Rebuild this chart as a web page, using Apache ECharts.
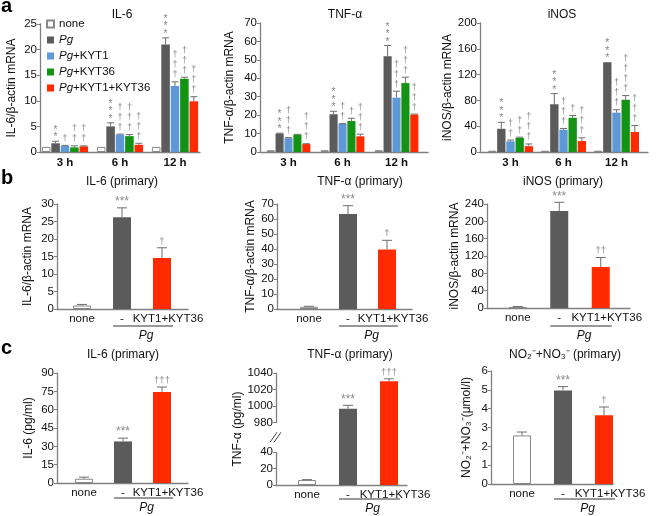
<!DOCTYPE html>
<html><head><meta charset="utf-8">
<script src="https://cdn.jsdelivr.net/npm/echarts@6/dist/echarts.min.js"></script>
<style>html,body{margin:0;padding:0;background:#fff}#c{width:660px;height:516px}</style>
</head><body><div id="c"></div>
<script>
// ---------------- DATA ----------------
const timeCats = ['3 h', '6 h', '12 h'];
const groupNames = ['none', 'Pg', 'Pg+KYT1', 'Pg+KYT36', 'Pg+KYT1+KYT36'];
const primaryCats = ['none', '-', 'KYT1+KYT36'];
const cTNFTicks = [0, 20, 40, 980, 1000, 1020, 1040];

// panel a : rows = group (none, Pg, Pg+KYT1, Pg+KYT36, Pg+KYT1+KYT36), cols = 3 h, 6 h, 12 h
const aIL6Mean = [[1.0, 1.0, 1.0], [1.7, 5.0, 21.0], [1.2, 3.4, 12.9], [0.9, 3.1, 14.3], [1.1, 1.4, 9.9]];
const aIL6Err  = [[0, 0, 0], [0.4, 0.7, 1.3], [0.1, 0.1, 0.8], [0.3, 0.3, 0.3], [0.1, 0.3, 0.9]];
const aIL6Sig  = [['', '', ''], ['**', '***', '***'], ['†', '†††', '†††'], ['††', '†††', '†††'], ['††', '†††', '†††']];

const aTNFMean = [[1.0, 1.0, 1.0], [10.0, 20.5, 52.0], [7.5, 15.2, 29.5], [9.4, 16.8, 37.4], [4.3, 8.5, 20.3]];
const aTNFErr  = [[0, 0, 0], [0.2, 1.6, 5.8], [0.3, 0.2, 3.5], [0.2, 1.5, 3.2], [0.2, 1.2, 0.3]];
const aTNFSig  = [['', '', ''], ['***', '***', '***'], ['†††', '††', '†††'], ['', '†', '†††'], ['†††', '†††', '†††']];

const aNOSMean = [[2, 2, 2], [36, 74, 139], [16.5, 34.5, 61], [22, 53, 81], [9, 17, 31]];
const aNOSErr  = [[0, 0, 0], [10, 16.5, 0], [2, 2, 4.5], [1, 3.5, 6.5], [3.5, 5, 10]];
const aNOSSig  = [['', '', ''], ['***', '***', '***'], ['††', '†††', '†††'], ['††', '†', '††††'], ['†††', '†††', '†††']];

// panels b and c : cols = none, Pg, Pg+KYT1+KYT36
const bIL6Mean = [1.0, 26.2, 14.6];  const bIL6Err = [0.3, 2.7, 2.9];  const bIL6Sig = ['', '***', '†'];
const bTNFMean = [1.5, 63.3, 39.6];  const bTNFErr = [0.3, 5.6, 6.2];  const bTNFSig = ['', '***', '†'];
const bNOSMean = [2, 224, 94.6];     const bNOSErr = [1.5, 20, 22];    const bNOSSig = ['', '***', '††'];
const cIL6Mean = [3.5, 34, 74.5];    const cIL6Err = [1.3, 2.7, 4];    const cIL6Sig = ['', '***', '†††'];
const cTNFMean = [6, 997, 1030];     const cTNFErr = [0.5, 4, 3];      const cTNFSig = ['', '***', '†††'];
const cNOMean  = [2.58, 4.97, 3.65]; const cNOErr  = [0.18, 0.2, 0.44]; const cNOSig = ['', '***', '†'];

// ---------------- STYLE / LAYOUT ----------------
const FF = '"Liberation Sans", Arial, Helvetica, sans-serif';
const AX = '#808080', ERR = '#6e6e6e', SIG = '#8a8a8a', TXT = '#111';
const groupColors = ['#ffffff', '#5b5b5b', '#5f98d6', '#139313', '#ff2a00'];
const primaryColors = ['#ffffff', '#5b5b5b', '#ff2a00'];

const panels = [
  {kind: 'a', title: 'IL-6', tx: 122, ty: 15, frame: [40, 24, 200, 152], bars: [37.5, 202.5], catGap: 0.16,
   min: 0, max: 25, interval: 5, name: 'IL-6/β-actin mRNA', nameGap: 22, mean: aIL6Mean, err: aIL6Err, sig: aIL6Sig},
  {kind: 'a', title: 'TNF-α', tx: 345, ty: 15, frame: [260, 23, 428, 152], bars: [261.5, 423.5], catGap: 0.19,
   min: 0, max: 70, interval: 10, name: 'TNF-α/β-actin mRNA', nameGap: 24, mean: aTNFMean, err: aTNFErr, sig: aTNFSig},
  {kind: 'a', title: 'iNOS', tx: 562, ty: 15, frame: [480, 23, 648, 152], bars: [484, 643], catGap: 0.15,
   min: 0, max: 200, interval: 40, name: 'iNOS/β-actin mRNA', nameGap: 24, mean: aNOSMean, err: aNOSErr, sig: aNOSSig},
  {kind: 'p', title: 'IL-6 (primary)', tx: 122, ty: 182, frame: [57, 204, 188, 309], bars: [62, 182],
   min: 0, max: 30, interval: 5, name: 'IL-6/β-actin mRNA', nameGap: 23, mean: bIL6Mean, err: bIL6Err, sig: bIL6Sig, lineDy: 17},
  {kind: 'p', title: 'TNF-α (primary)', tx: 360, ty: 182, frame: [277, 204, 412, 309], bars: [289.5, 406.5],
   min: 0, max: 70, interval: 10, name: 'TNF-α/β-actin mRNA', nameGap: 20, mean: bTNFMean, err: bTNFErr, sig: bTNFSig, lineDy: 17},
  {kind: 'p', title: 'iNOS (primary)', tx: 563, ty: 182, frame: [487, 204, 630, 308], bars: [497, 621.5],
   min: 0, max: 240, interval: 40, name: 'iNOS/β-actin mRNA', nameGap: 17.5, mean: bNOSMean, err: bNOSErr, sig: bNOSSig, lineDy: 18},
  {kind: 'p', title: 'IL-6 (primary)', tx: 123, ty: 355, frame: [57, 373, 188, 483], bars: [64.5, 181.5],
   min: 0, max: 90, interval: 15, name: 'IL-6 (pg/ml)', nameGap: 22.5, mean: cIL6Mean, err: cIL6Err, sig: cIL6Sig, lineDy: 15},
  {kind: 'p', title: 'TNF-α (primary)', tx: 350, ty: 355, frame: [276, 373, 407, 485], bars: [286.5, 409.5],
   min: 0, max: 1040, interval: 20, breaks: [{start: 40, end: 980, gap: '26%'}], ticks: cTNFTicks,
   name: 'TNF-α (pg/ml)', nameGap: 28, mean: cTNFMean, err: cTNFErr, sig: cTNFSig, lineDy: 14},
  {kind: 'p', title: 'NO₂⁻+NO₃⁻ (primary)', tx: 565, ty: 355, frame: [491, 371, 613, 484], bars: [501.5, 624.5],
   min: 0, max: 6, interval: 1, name: 'NO₂⁻+NO₃⁻(μmol/l)', nameGap: 18.5, mean: cNOMean, err: cNOErr, sig: cNOSig, lineDy: 15}
];

const grid = [], xAxis = [], yAxis = [], series = [];

function errSeries(p, items, nBars, catGap, barGap) {
  return {
    type: 'custom', xAxisIndex: p.xi, yAxisIndex: p.yi, z: 5, silent: true, clip: false,
    data: items.map(it => [it.c, it.m + it.e]),
    renderItem(params, api) {
      const it = items[params.dataIndex];
      const band = api.size([1, 0])[0];
      let off = 0;
      if (nBars > 1) {
        const gw = band * (1 - catGap);
        const w = gw / (nBars + (nBars - 1) * barGap);
        off = -gw / 2 + it.k * w * (1 + barGap) + w / 2;
      }
      const base = api.coord([it.c, it.m]);
      const top = api.coord([it.c, it.m + it.e]);
      const x = base[0] + off;
      const cap = nBars > 1 ? 3.5 : 5;
      const ch = [];
      if (it.e > 0) {
        ch.push({type: 'line', shape: {x1: x, y1: base[1], x2: x, y2: top[1]}, style: {stroke: ERR, lineWidth: 1}});
        ch.push({type: 'line', shape: {x1: x - cap, y1: top[1], x2: x + cap, y2: top[1]}, style: {stroke: ERR, lineWidth: 1}});
      }
      if (it.s) {
        const star = it.s[0] === '*';
        let txt, fs, lh;
        if (nBars > 1) {
          txt = it.s.split('').join('\n');
          fs = star ? 10.5 : 9; lh = star ? 7.5 : 10;
        } else {
          txt = it.s; fs = star ? 12 : 9.5; lh = fs;
        }
        ch.push({type: 'text', style: {text: txt, x: x, y: top[1] - (star ? 0 : 2), align: 'center',
          verticalAlign: 'bottom', fill: SIG, fontSize: fs, lineHeight: lh, fontFamily: FF}});
      }
      return {type: 'group', children: ch};
    }
  };
}

panels.forEach(p => {
  const [x0, y0, x1, y1] = p.frame;
  const fg = grid.length;
  grid.push({left: x0, top: y0, width: x1 - x0, height: y1 - y0});
  xAxis.push({gridIndex: fg, type: 'value', min: 0, max: 1, position: 'bottom',
    axisLine: {show: true, onZero: false, lineStyle: {color: AX, width: 1.3}},
    axisTick: {show: false}, axisLabel: {show: false}, splitLine: {show: false}});
  const yCommon = {type: 'value', min: p.min, max: p.max, interval: p.interval};
  if (p.breaks) { yCommon.breaks = p.breaks; yCommon.breakArea = {show: false}; }
  const topTick = p.ticks ? p.ticks[p.ticks.length - 1] : null;
  const yLabel = {fontSize: 11.5, color: TXT, margin: 3, fontFamily: FF, hideOverlap: false,
    showMaxLabel: true, showMinLabel: true,
    formatter: v => (p.ticks && v === topTick) ? '' : String(v)};
  const yTick = {show: true, length: 3, lineStyle: {color: AX, width: 1}};
  if (p.ticks) { yLabel.customValues = p.ticks; yTick.customValues = p.ticks; }
  yAxis.push(Object.assign({gridIndex: fg,
    name: p.name, nameLocation: 'middle', nameGap: p.nameGap, nameRotate: 90,
    nameTextStyle: {fontSize: 12, color: TXT, fontFamily: FF},
    axisLine: {show: true, lineStyle: {color: AX, width: 1.3}},
    axisTick: yTick, axisLabel: yLabel,
    splitLine: {show: false}}, yCommon));
  const bg = grid.length;
  grid.push({left: p.bars[0], top: y0, width: p.bars[1] - p.bars[0], height: y1 - y0});
  const isA = p.kind === 'a';
  xAxis.push({gridIndex: bg, type: 'category', data: isA ? timeCats : primaryCats,
    axisLine: {show: false}, axisTick: {show: false},
    axisLabel: isA ? {interval: 0, fontSize: 11.5, fontWeight: 'bold', color: TXT, margin: 5, fontFamily: FF}
      : {interval: 0, hideOverlap: false, fontSize: 11.5, color: TXT, margin: 4, fontFamily: FF,
         formatter: v => v === 'KYT1+KYT36' ? '{k|' + v + '}' : v,
         rich: {k: {fontSize: 11.5, color: TXT, fontFamily: FF, padding: [0, 0, 0, 12]}}}});
  yAxis.push(Object.assign({gridIndex: bg, show: false, splitLine: {show: false}}, yCommon));
  p.xi = xAxis.length - 1; p.yi = yAxis.length - 1; p.fyi = yAxis.length - 2; p.fxi = xAxis.length - 2;

  const items = [];
  if (isA) {
    groupNames.forEach((gname, k) => {
      series.push({type: 'bar', name: gname, xAxisIndex: p.xi, yAxisIndex: p.yi, data: p.mean[k],
        barCategoryGap: (p.catGap * 100) + '%', barGap: '10%',
        itemStyle: k === 0 ? {color: '#fff', borderColor: '#888', borderWidth: 1} : {color: groupColors[k]}});
      p.mean[k].forEach((m, j) => items.push({c: j, k: k, m: m, e: p.err[k][j], s: p.sig[k][j]}));
    });
    series.push(errSeries(p, items, 5, p.catGap, 0.1));
  } else {
    series.push({type: 'bar', name: 'primary', xAxisIndex: p.xi, yAxisIndex: p.yi, barWidth: 18,
      data: p.mean.map((m, j) => ({value: m, itemStyle: j === 0 ? {color: '#fff', borderColor: '#888', borderWidth: 1} : {color: primaryColors[j]}}))});
    p.mean.forEach((m, j) => items.push({c: j, k: 0, m: m, e: p.err[j], s: p.sig[j]}));
    series.push(errSeries(p, items, 1, 0, 0));
  }
});

const graphics = [];
panels.forEach(p => graphics.push({type: 'text', x: p.tx, y: p.ty,
  style: {text: p.title, align: 'center', verticalAlign: 'middle', fontSize: 12, fill: TXT, fontFamily: FF}}));
[['a', 1, 16], ['b', 1, 188], ['c', 1, 358]].forEach(([t, x, y]) => graphics.push({type: 'text', x: x, y: y,
  style: {text: t, align: 'left', verticalAlign: 'bottom', fontSize: 20, fontWeight: 'bold', fill: '#000', fontFamily: FF}}));

const chart = echarts.init(document.getElementById('c'));
chart.setOption({
  animation: false,
  backgroundColor: '#fff',
  textStyle: {fontFamily: FF},
  legend: {orient: 'vertical', left: 41, top: 13, itemWidth: 7, itemHeight: 7, itemGap: 4, icon: 'rect',
    data: groupNames, selectedMode: false,
    formatter: n => n.replace('Pg', '{i|Pg}'),
    textStyle: {fontSize: 11.5, color: TXT, fontFamily: FF,
      rich: {i: {fontStyle: 'italic', fontSize: 11.5, color: TXT, fontFamily: FF}}}},
  grid: grid, xAxis: xAxis, yAxis: yAxis, series: series,
  graphic: graphics
});

// underline + "Pg" below panels b/c, axis break marks
const extra = [];
panels.filter(p => p.kind === 'p').forEach(p => {
  const a = chart.convertToPixel({xAxisIndex: p.xi, yAxisIndex: p.yi}, [1, p.min]);
  const b = chart.convertToPixel({xAxisIndex: p.xi, yAxisIndex: p.yi}, [2, p.min]);
  const y = a[1] + p.lineDy;
  const xs = a[0] - 9, xe = b[0] + 11;
  extra.push({type: 'line', shape: {x1: xs, y1: y, x2: xe, y2: y}, style: {stroke: '#333', lineWidth: 1}});
  extra.push({type: 'text', x: (xs + xe) / 2 + 3, y: y + 10,
    style: {text: 'Pg', align: 'center', verticalAlign: 'middle', fontSize: 12, fontStyle: 'italic', fill: TXT, fontFamily: FF}});
  if (p.breaks) {
    const br = p.breaks[0];
    const c = chart.convertToPixel({xAxisIndex: p.xi, yAxisIndex: p.yi}, [0, (br.start + br.end) / 2]);
    const ax = p.frame[0], cy = c[1];
    extra.push({type: 'rect', shape: {x: ax - 2, y: cy - 6, width: 4, height: 12}, style: {fill: '#fff'}});
    extra.push({type: 'line', shape: {x1: ax - 6, y1: cy + 5, x2: ax + 1, y2: cy - 5}, style: {stroke: '#444', lineWidth: 1}});
    extra.push({type: 'line', shape: {x1: ax - 2, y1: cy + 5, x2: ax + 5, y2: cy - 5}, style: {stroke: '#444', lineWidth: 1}});
    // top tick label of the broken axis
    const topVal = p.ticks[p.ticks.length - 1];
    const t = chart.convertToPixel({xAxisIndex: p.fxi, yAxisIndex: p.fyi}, [0, topVal]);
    const ty = Math.round(t[1]);
    extra.push({type: 'line', shape: {x1: ax - 3, y1: ty + 0.5, x2: ax, y2: ty + 0.5}, style: {stroke: AX, lineWidth: 1}});
    extra.push({type: 'text', x: ax - 3, y: ty,
      style: {text: String(topVal), align: 'right', verticalAlign: 'middle', fontSize: 11.5, fontWeight: 'normal', fill: TXT, fontFamily: FF}});
  }
});
chart.setOption({graphic: graphics.concat(extra)});
</script>
</body></html>
